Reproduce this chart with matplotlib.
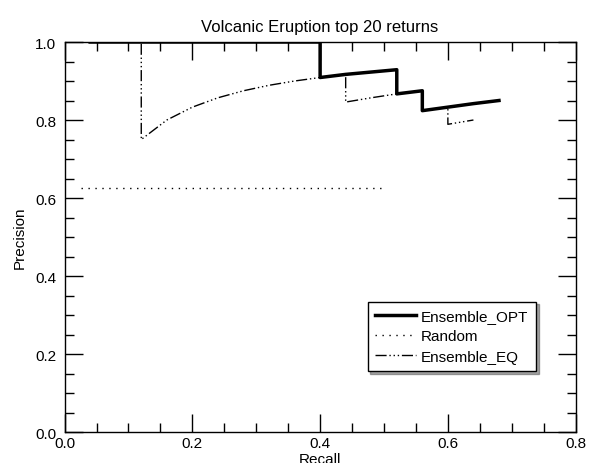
import matplotlib.pyplot as plt
from matplotlib.ticker import MultipleLocator

plt.rcParams['font.family'] = ['Liberation Sans', 'DejaVu Sans']

# Ensemble_OPT precision/recall points
opt_recall = [0.04, 0.08, 0.12, 0.16, 0.20, 0.24, 0.28, 0.32, 0.36, 0.40,
              0.40, 0.44, 0.48, 0.52, 0.52, 0.56, 0.56, 0.60, 0.64, 0.68]
opt_prec = [1.0, 1.0, 1.0, 1.0, 1.0, 1.0, 1.0, 1.0, 1.0, 1.0,
            0.909, 0.917, 0.923, 0.929, 0.867, 0.875, 0.824, 0.833, 0.842, 0.850]

# Random
rand_recall = [0.025, 0.05, 0.075, 0.10, 0.125, 0.15, 0.175, 0.20, 0.225, 0.25,
               0.275, 0.30, 0.325, 0.35, 0.375, 0.40, 0.425, 0.45, 0.475, 0.50]
rand_prec = [0.625] * 20

# Ensemble_EQ
eq_recall = [0.04, 0.08, 0.12, 0.12, 0.16, 0.20, 0.24, 0.28, 0.32, 0.36,
             0.40, 0.44, 0.44, 0.48, 0.52, 0.56, 0.56, 0.60, 0.60, 0.64]
eq_prec = [1.0, 1.0, 1.0, 0.75, 0.80, 0.833, 0.857, 0.875, 0.889, 0.90,
           0.909, 0.917, 0.846, 0.857, 0.867, 0.875, 0.824, 0.833, 0.789, 0.80]

fig = plt.figure(figsize=(5.89, 4.64), dpi=100)
ax = fig.add_axes([0.1097, 0.0668, 0.8676, 0.8405])

ax.plot(opt_recall, opt_prec, color='black', lw=2.5, label='Ensemble_OPT')
ax.plot(rand_recall, rand_prec, color='black', lw=1.0, ls=(0, (1, 4)), label='Random')
ax.plot(eq_recall, eq_prec, color='black', lw=1.0,
        ls=(0, (8, 2, 1, 2, 1, 2, 1, 2)), label='Ensemble_EQ')

ax.set_xlim(0, 0.8)
ax.set_ylim(0, 1.0)
ax.xaxis.set_major_locator(MultipleLocator(0.2))
ax.xaxis.set_minor_locator(MultipleLocator(0.05))
ax.yaxis.set_major_locator(MultipleLocator(0.2))
ax.yaxis.set_minor_locator(MultipleLocator(0.05))
ax.tick_params(which='both', direction='in', top=True, right=True,
               labelsize=11, width=1.0)
ax.tick_params(which='major', length=13)
ax.tick_params(which='minor', length=6.5)
ax.tick_params(axis='x', which='major', pad=3)
ax.tick_params(axis='y', which='major', pad=6)
ax.xaxis.set_major_formatter(plt.FormatStrFormatter('%.1f'))
ax.yaxis.set_major_formatter(plt.FormatStrFormatter('%.1f'))
for s in ax.spines.values():
    s.set_linewidth(1.0)

ax.set_title('Volcanic Eruption top 20 returns', fontsize=12, pad=8)
ax.set_xlabel('Recall', fontsize=11, labelpad=1)
ax.set_ylabel('Precision', fontsize=11, labelpad=6)

leg = ax.legend(loc='lower right', bbox_to_anchor=(0.9225, 0.156), fontsize=11,
                fancybox=False, shadow=True, handlelength=2.7, handletextpad=0.3,
                borderaxespad=0, labelspacing=0.4, borderpad=0.5, framealpha=1)
leg.get_frame().set_edgecolor('black')
leg.get_frame().set_linewidth(1.0)

fig.savefig('out.png', dpi=100)
